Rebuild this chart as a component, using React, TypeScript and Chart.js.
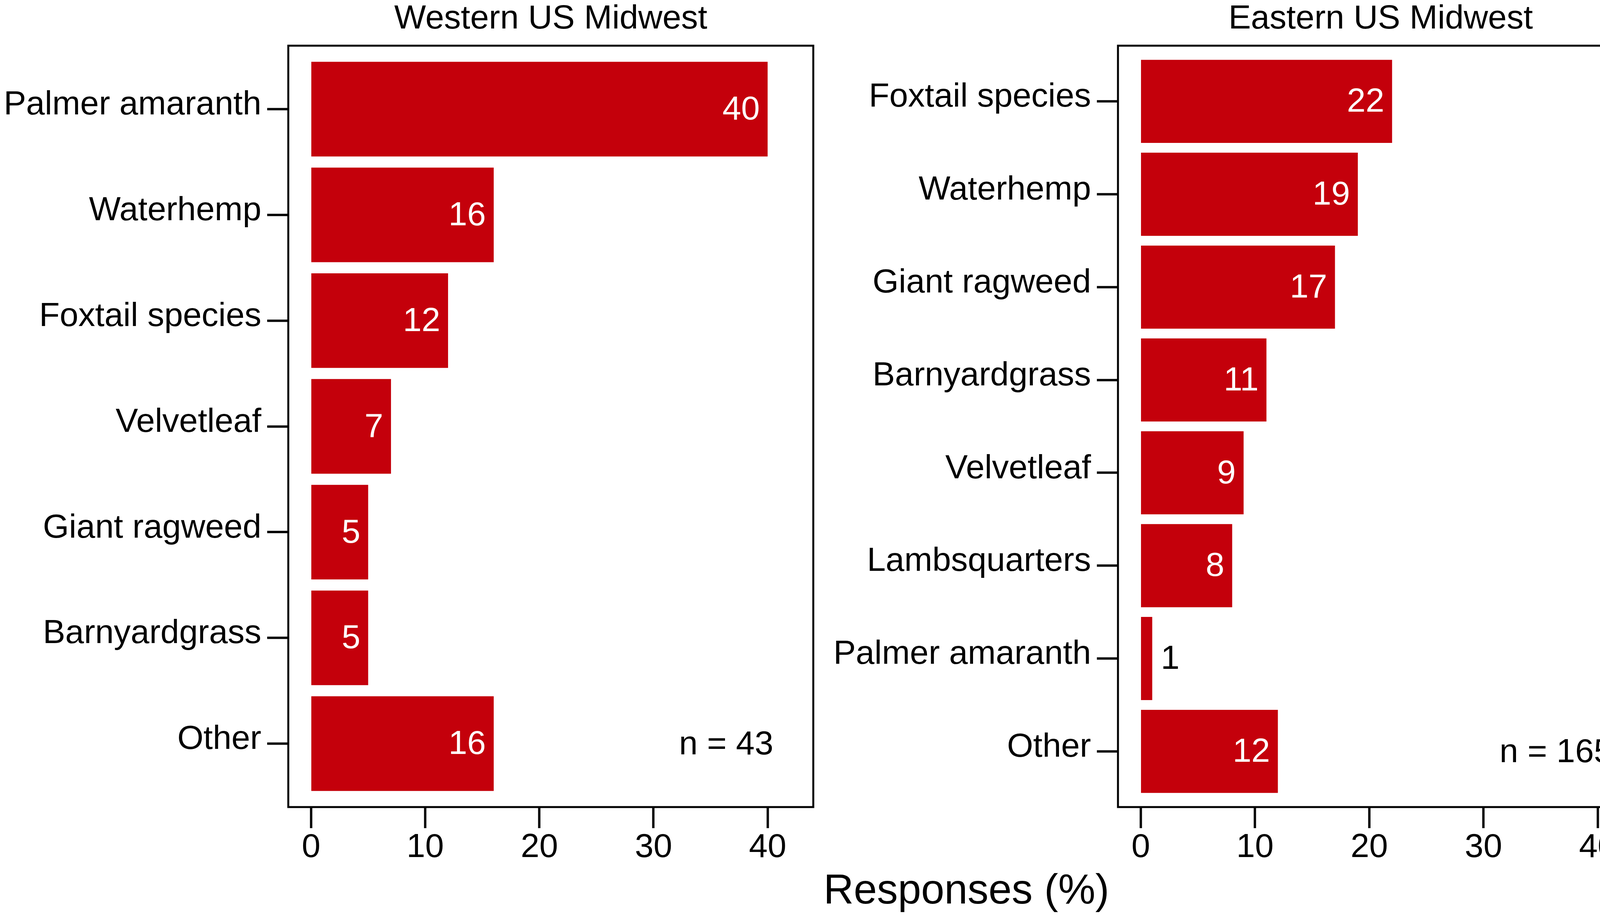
import React, { useEffect, useRef } from "react";
import { Chart, registerables } from "chart.js";

Chart.register(...registerables);

// ---------- data ----------
const westCategories = [
  "Palmer amaranth",
  "Waterhemp",
  "Foxtail species",
  "Velvetleaf",
  "Giant ragweed",
  "Barnyardgrass",
  "Other",
];
const westValues = [40, 16, 12, 7, 5, 5, 16];

const eastCategories = [
  "Foxtail species",
  "Waterhemp",
  "Giant ragweed",
  "Barnyardgrass",
  "Velvetleaf",
  "Lambsquarters",
  "Palmer amaranth",
  "Other",
];
const eastValues = [22, 19, 17, 11, 9, 8, 1, 12];

const xTickValues = [0, 10, 20, 30, 40];
const panelTitles = ["Western US Midwest", "Eastern US Midwest"];
const sampleLabels = ["n = 43", "n = 165"];
const sampleLabelX = [40.5, 41.3];
const xAxisTitle = "Responses (%)";

// ---------- style ----------
const FONT = "'Liberation Sans', Arial, Helvetica, sans-serif";
const RED = "#C4000B";
const FS = 86;

type PanelProps = {
  categories: string[];
  values: number[];
  title: string;
  nLabel: string;
  nX: number;
  left: number;
  width: number;
  yAxisWidth: number;
  padRight: number;
};

function Panel(props: PanelProps) {
  const ref = useRef<HTMLCanvasElement | null>(null);
  useEffect(() => {
    const canvas = ref.current;
    if (!canvas) return;
    const { categories, values, title, nLabel, nX, yAxisWidth, padRight } = props;
    const n = categories.length;

    const framePlugin = {
      id: "frameAndLabels",
      afterDatasetsDraw(chart: any) {
        const ctx = chart.ctx;
        const a = chart.chartArea;
        const xs = chart.scales.x;
        const ys = chart.scales.y;
        ctx.save();
        // frame
        ctx.strokeStyle = "#000";
        ctx.lineWidth = 5;
        ctx.strokeRect(a.left, a.top, a.right - a.left, a.bottom - a.top);
        // title
        ctx.fillStyle = "#000";
        ctx.font = `${FS}px ${FONT}`;
        ctx.textAlign = "center";
        ctx.textBaseline = "alphabetic";
        ctx.fillText(title, (a.left + a.right) / 2, 73);
        // value labels
        const meta = chart.getDatasetMeta(0);
        ctx.textBaseline = "middle";
        meta.data.forEach((el: any, i: number) => {
          const v = values[i];
          if (v >= 3) {
            ctx.fillStyle = "#fff";
            ctx.textAlign = "right";
            ctx.fillText(String(v), el.x - 20, el.y + 3);
          } else {
            ctx.fillStyle = "#000";
            ctx.textAlign = "left";
            ctx.fillText(String(v), el.x + 22, el.y + 3);
          }
        });
        // sample size
        ctx.fillStyle = "#000";
        ctx.textAlign = "right";
        ctx.fillText(nLabel, xs.getPixelForValue(nX), ys.getPixelForValue(n - 1) + 4);
        ctx.restore();
      },
    };

    const tickFont = { family: FONT, size: FS, lineHeight: 1 };
    const gridOpts = {
      offset: false,
      drawOnChartArea: false,
      drawTicks: true,
      tickLength: 54,
      tickWidth: 6,
      tickColor: "#000",
    };

    const chart = new Chart(canvas, {
      type: "bar",
      data: {
        datasets: [
          {
            data: values.map((v, i) => ({ x: v, y: i })),
            backgroundColor: RED,
            borderWidth: 0,
            categoryPercentage: 1,
            barPercentage: 0.895,
          } as any,
        ],
      },
      options: {
        indexAxis: "y",
        animation: false,
        responsive: false,
        maintainAspectRatio: false,
        devicePixelRatio: 1,
        layout: { padding: { left: 0, right: padRight, top: 117, bottom: 0 } },
        plugins: {
          legend: { display: false },
          tooltip: { enabled: false },
          title: { display: false },
        },
        scales: {
          x: {
            type: "linear",
            position: "bottom",
            offset: false,
            min: -2,
            max: 44,
            afterBuildTicks: (s: any) => {
              s.ticks = xTickValues.map((v) => ({ value: v }));
            },
            afterFit: (s: any) => {
              s.height = 279;
            },
            grid: gridOpts,
            border: { display: false },
            ticks: {
              font: tickFont,
              color: "#000",
              padding: 7,
              maxRotation: 0,
              autoSkip: false,
              includeBounds: false,
            },
          },
          y: {
            type: "linear",
            offset: false,
            min: -0.6,
            max: n - 0.4,
            reverse: true,
            afterBuildTicks: (s: any) => {
              s.ticks = categories.map((_, i) => ({ value: i }));
            },
            afterFit: (s: any) => {
              s.width = yAxisWidth;
            },
            grid: gridOpts,
            border: { display: false },
            ticks: {
              font: tickFont,
              color: "#000",
              padding: 15,
              labelOffset: -10,
              autoSkip: false,
              includeBounds: false,
              callback: (_v: any, i: number) => categories[i],
            },
          },
        },
      } as any,
      plugins: [framePlugin],
    });
    return () => chart.destroy();
  }, []);

  return (
    <canvas
      ref={ref}
      width={props.width}
      height={2346}
      style={{
        position: "absolute",
        left: props.left,
        top: 0,
        width: props.width,
        height: 2346,
      }}
    />
  );
}

export default function App() {
  return (
    <div
      style={{
        position: "fixed",
        left: 0,
        top: 0,
        width: 4220,
        height: 2346,
        background: "#fff",
        overflow: "hidden",
      }}
    >
      <Panel
        categories={westCategories}
        values={westValues}
        title={panelTitles[0]}
        nLabel={sampleLabels[0]}
        nX={sampleLabelX[0]}
        left={0}
        width={2110}
        yAxisWidth={738}
        padRight={28}
      />
      <Panel
        categories={eastCategories}
        values={eastValues}
        title={panelTitles[1]}
        nLabel={sampleLabels[1]}
        nX={sampleLabelX[1]}
        left={2110}
        width={2110}
        yAxisWidth={752}
        padRight={13}
      />
      <div
        style={{
          position: "absolute",
          left: 2474,
          top: 2224,
          transform: "translateX(-50%)",
          fontFamily: FONT,
          fontSize: 107,
          lineHeight: 1,
          color: "#000",
          whiteSpace: "nowrap",
        }}
      >
        {xAxisTitle}
      </div>
    </div>
  );
}
